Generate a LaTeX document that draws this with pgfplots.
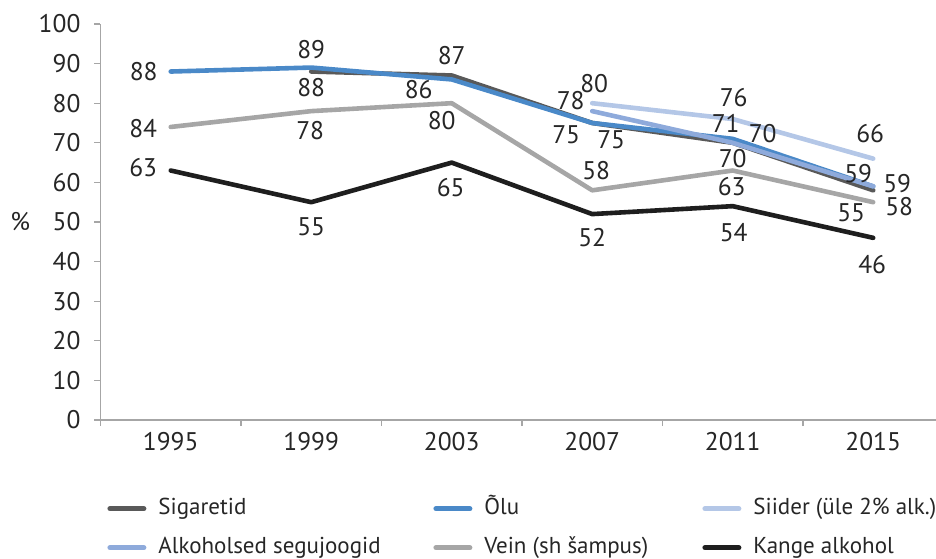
\documentclass[border=0pt]{standalone}
\usepackage{fontspec}
\setmainfont{PT Sans}
\usepackage{pgfplots}
\pgfplotsset{compat=1.18}
\usepackage{pgfplotstable}
\definecolor{cSig}{HTML}{595959}
\definecolor{cOlu}{HTML}{4A89C8}
\definecolor{cSii}{HTML}{B4C7E7}
\definecolor{cAlk}{HTML}{8EAADB}
\definecolor{cVein}{HTML}{A6A6A6}
\definecolor{cKange}{HTML}{1E1E1E}
\definecolor{cAxis}{HTML}{A6A6A6}
\definecolor{cText}{HTML}{262626}

% x = category index (0 = 1995), y = value, lab = printed label, dx/dy = label offset in pt
\pgfplotstableread{
x y lab dx dy
1 88 88 0 -8
2 87 87 0 9.75
3 75 75 9.5 -8.25
4 70 70 15 4.5
5 58 58 13 -8
}\tSig
\pgfplotstableread{
x y lab dx dy
0 88 88 -13.5 0
1 89 89 0 9
2 86 86 -16.5 -5.3
3 75 75 -13 -6
4 71 71 -3.5 7.5
5 59 59 12 1.5
}\tOlu
\pgfplotstableread{
x y lab dx dy
3 80 80 1 9.85
4 76 76 0.5 10.5
5 66 66 -1.5 12.3
}\tSii
\pgfplotstableread{
x y lab dx dy
3 78 78 -10.75 5.3
4 70 70 0 -8
5 59 59 -7.5 6.5
}\tAlk
\pgfplotstableread{
x y lab dx dy
0 74 84 -13.75 -1
1 78 78 -0.5 -9.5
2 80 80 -5 -8.5
3 58 58 2 10
4 63 63 -0.5 -8.25
5 55 55 -11 -5.5
}\tVein
\pgfplotstableread{
x y lab dx dy
0 63 63 -13.75 1.5
1 55 55 0 -12.5
2 65 65 -0.5 -12.5
3 52 52 0 -11.75
4 54 54 0.5 -13
5 46 46 -0.5 -13.35
}\tKange

\newcommand\numfont{\fontsize{12.75}{14}\selectfont}
\newcommand\legfont{\fontsize{11.5}{13}\selectfont}

\pgfplotsset{
  lbl/.style={
    nodes near coords, point meta=explicit symbolic,
    visualization depends on={\thisrow{dx}\as\dx},
    visualization depends on={\thisrow{dy}\as\dy},
    nodes near coords style={anchor=center, xshift=\dx pt, yshift=\dy pt, text=cText, inner sep=0pt,
       font=\numfont},
  }
}

\begin{document}
\begin{tikzpicture}[font=\numfont]
\path[use as bounding box] (0,0) rectangle (468pt,279pt);
\begin{axis}[
  at={(50.25pt,69pt)}, anchor=south west,
  scale only axis, width=417.75pt, height=198pt,
  xmin=-0.5, xmax=5.447, ymin=0, ymax=100,
  clip=false,
  axis x line*=bottom, axis y line*=left,
  axis line style={cAxis, line width=0.6pt, -},
  xtick={-0.5,0.5,...,4.5}, xticklabels={},
  extra x ticks={0,1,2,3,4,5},
  extra x tick labels={1995,1999,2003,2007,2011,2015},
  extra x tick style={major tick length=0pt, tick label style={yshift=-2.5pt}},
  ytick={0,10,...,100},
  tick align=outside,
  major tick length=3pt,
  tick style={cAxis, line width=0.6pt},
  tick label style={font=\numfont, text=cText},
  yticklabel style={xshift=-3.5pt},
  /pgf/number format/assume math mode=true,
  ylabel={\%},
  ylabel style={at={(axis description cs:-0.096,0.5)}, rotate=-90, anchor=center, text=cText, font=\numfont},
  every axis plot/.append style={line width=2.3pt, line cap=round, line join=round, no markers},
  legend columns=3,
  legend style={at={(axis description cs:0.0078,-0.199)}, anchor=north west,
    draw=none, fill=none, inner sep=0pt, column sep=0pt, row sep=10pt,
    nodes={inner sep=0pt, text height=7.5pt, text depth=2pt, anchor=west, text=cText, font=\legfont},
    /tikz/every odd column/.style={column sep=6pt}},
  legend cell align=left,
  legend image code/.code={\draw[#1, line width=2.6pt, line cap=round] (1.3pt,0pt) -- (18.2pt,0pt);},
]
\addplot[cSig, lbl] table[x=x,y=y,meta=lab]{\tSig};
\addlegendentry{\makebox[137.5pt][l]{Sigaretid}}
\addplot[cOlu, lbl] table[x=x,y=y,meta=lab]{\tOlu};
\addlegendentry{\makebox[109pt][l]{Õlu}}
\addplot[cSii, lbl] table[x=x,y=y,meta=lab]{\tSii};
\addlegendentry{Siider (üle 2\% alk.)}
\addplot[cAlk, lbl] table[x=x,y=y,meta=lab]{\tAlk};
\addlegendentry{\makebox[137.5pt][l]{Alkoholsed segujoogid}}
\addplot[cVein, lbl] table[x=x,y=y,meta=lab]{\tVein};
\addlegendentry{\makebox[109pt][l]{Vein (sh šampus)}}
\addplot[cKange, lbl] table[x=x,y=y,meta=lab]{\tKange};
\addlegendentry{Kange alkohol}
\end{axis}
\end{tikzpicture}
\end{document}
